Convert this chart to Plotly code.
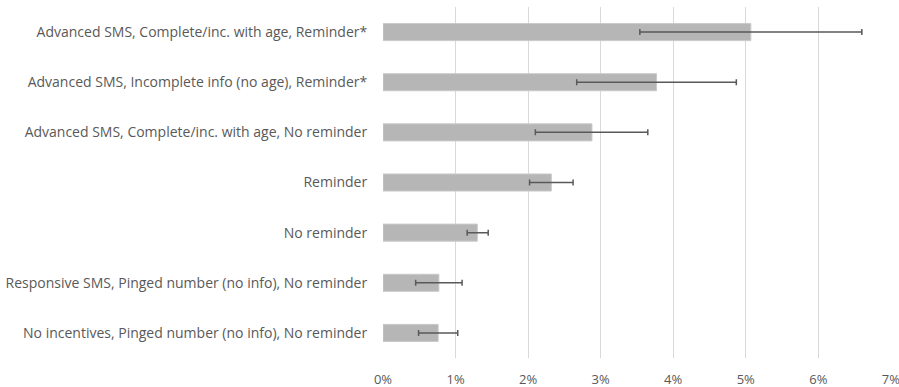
import plotly.graph_objects as go

categories = [
    "Advanced SMS, Complete/inc. with age, Reminder*",
    "Advanced SMS, Incomplete info (no age), Reminder*",
    "Advanced SMS, Complete/inc. with age, No reminder",
    "Reminder",
    "No reminder",
    "Responsive SMS, Pinged number (no info), No reminder",
    "No incentives, Pinged number (no info), No reminder",
]
values = [5.07, 3.77, 2.88, 2.32, 1.30, 0.77, 0.76]
err_low = [3.54, 2.67, 2.10, 2.02, 1.16, 0.45, 0.49]
err_high = [6.60, 4.87, 3.65, 2.62, 1.45, 1.09, 1.03]
tick_vals = [0, 1, 2, 3, 4, 5, 6, 7]

plus = [h - v for h, v in zip(err_high, values)]
minus = [v - l for l, v in zip(err_low, values)]

fig = go.Figure(
    go.Bar(
        y=categories,
        x=values,
        orientation="h",
        width=0.34,
        marker=dict(color="#b5b6b5", line=dict(color="#c9c9c9", width=1)),
        error_x=dict(
            type="data",
            symmetric=False,
            array=plus,
            arrayminus=minus,
            color="#595959",
            thickness=1.5,
            width=3,
        ),
    )
)

fig.update_layout(
    width=899,
    height=387,
    margin=dict(l=383, r=8, t=7, b=29, autoexpand=False),
    paper_bgcolor="white",
    plot_bgcolor="white",
    font=dict(family="Open Sans", size=14, color="#595959"),
    showlegend=False,
)
fig.update_xaxes(
    range=[0, 7.002],
    tickvals=tick_vals,
    ticktext=[f"{t}%" for t in tick_vals],
    showgrid=True,
    gridcolor="#d9d9d9",
    gridwidth=1,
    zeroline=False,
    showline=False,
    automargin=False,
    ticklabeloverflow="allow",
    ticks="outside",
    ticklen=9,
    tickcolor="rgba(0,0,0,0)",
    tickfont=dict(size=13, color="#595959"),
)
fig.update_yaxes(
    autorange="reversed",
    showgrid=False,
    showline=False,
    automargin=False,
    ticks="outside",
    ticklen=12,
    tickcolor="rgba(0,0,0,0)",
    tickfont=dict(size=14, color="#595959"),
)

fig.write_html("out.html")
